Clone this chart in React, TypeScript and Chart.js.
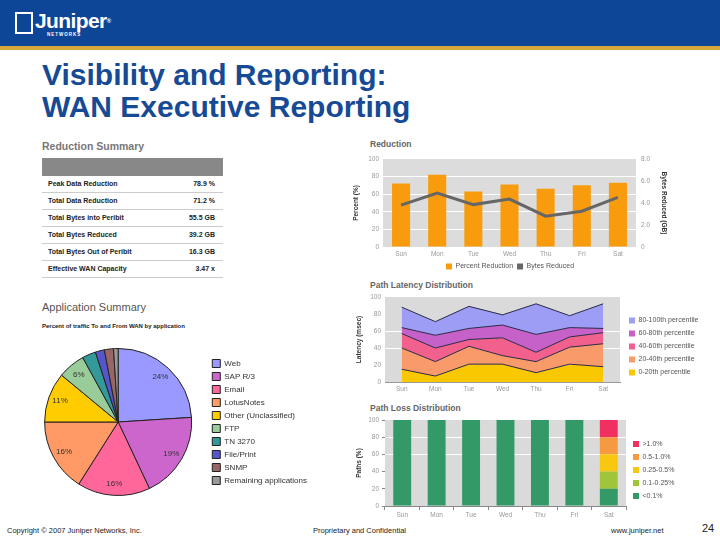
import React, { useEffect, useRef } from "react";
import { Chart, registerables } from "chart.js";
Chart.register(...registerables);

// ---------- data ----------
const days = ["Sun", "Mon", "Tue", "Wed", "Thu", "Fri", "Sat"];

const summaryLabels = [
  "Peak Data Reduction",
  "Total Data Reduction",
  "Total Bytes into Peribit",
  "Total Bytes Reduced",
  "Total Bytes Out of Peribit",
  "Effective WAN Capacity",
];
const summaryValues = ["78.9 %", "71.2 %", "55.5 GB", "39.2 GB", "16.3 GB", "3.47 x"];

const percentReduction = [72, 82, 63, 71, 66, 70, 73];
const bytesReducedGB = [3.8, 4.9, 3.85, 4.35, 2.8, 3.25, 4.5];
const percentTickStep = 20;
const bytesTickStep = 2;

const latencyLabels = ["0-20th percentile", "20-40th percentile", "40-60th percentile", "60-80th percentile", "80-100th percentile"];
const latency0to20 = [15, 7, 21, 21, 11, 21, 18];
const latency20to40 = [25, 17, 21, 10, 13, 20, 27];
const latency40to60 = [17, 16, 8, 21, 11, 12, 13];
const latency60to80 = [7, 15, 13, 15, 21, 11, 5];
const latency80to100 = [24, 16, 26, 12, 36, 14, 29];

const lossLabels = ["<0.1%", "0.1-0.25%", "0.25-0.5%", "0.5-1.0%", ">1.0%"];
const lossUnder01 = [100, 100, 100, 100, 100, 100, 20];
const loss01to025 = [0, 0, 0, 0, 0, 0, 20];
const loss025to05 = [0, 0, 0, 0, 0, 0, 20];
const loss05to1 = [0, 0, 0, 0, 0, 0, 20];
const lossOver1 = [0, 0, 0, 0, 0, 0, 20];

const appNames = [
  "Web",
  "SAP R/3",
  "Email",
  "LotusNotes",
  "Other (Unclassified)",
  "FTP",
  "TN 3270",
  "File/Print",
  "SNMP",
  "Remaining applications",
];
const appShare = [24, 19, 16, 16, 11, 6, 3, 2, 2, 1];

// ---------- styling ----------
const FONT = "'Liberation Sans', Arial, sans-serif";
Chart.defaults.font.family = FONT;
Chart.defaults.font.size = 7;
Chart.defaults.color = "#888";

const latencyColors = ["#FAC800", "#F99A6B", "#F2618D", "#C661C9", "#9D9DF5"];
const lossColors = ["#339966", "#A0C43A", "#F8C810", "#F59A40", "#F03060"];
const appColors = ["#9999FF", "#CC66CC", "#FF6699", "#FF9966", "#FFCC00", "#99CC99", "#339999", "#5555CC", "#996666", "#999999"];

const plotBg = {
  id: "plotBg",
  beforeDraw(chart: any, _a: any, opts: any) {
    if (!opts || !opts.color) return;
    const { ctx, chartArea: a } = chart;
    ctx.save();
    ctx.fillStyle = opts.color;
    ctx.fillRect(a.left, a.top, a.right - a.left, a.bottom - a.top);
    ctx.restore();
  },
};

const pieLabels = {
  id: "pieLabels",
  afterDatasetsDraw(chart: any) {
    const { ctx } = chart;
    const meta = chart.getDatasetMeta(0);
    const values = chart.data.datasets[0].data as number[];
    ctx.save();
    ctx.font = `8px ${FONT}`;
    ctx.fillStyle = "#333";
    ctx.textAlign = "center";
    ctx.textBaseline = "middle";
    meta.data.forEach((arc: any, i: number) => {
      if (values[i] < 5) return;
      const mid = (arc.startAngle + arc.endAngle) / 2;
      const r = arc.outerRadius * 0.84;
      ctx.fillText(values[i] + "%", arc.x + Math.cos(mid) * r, arc.y + Math.sin(mid) * r);
    });
    ctx.restore();
  },
};

const noStrokeLabels = (c: any) =>
  (Chart.defaults.plugins.legend.labels.generateLabels as any)(c).map((l: any) => ({ ...l, lineWidth: 0, strokeStyle: l.fillStyle }));

const tickFont = { size: 6.5 };
const axisTitle = (text: string) => ({
  display: true,
  text,
  color: "#333",
  font: { size: 6.5, weight: "bold" as const },
  padding: { top: 0, bottom: 2 },
});

function reductionConfig(): any {
  return {
    type: "bar",
    data: {
      labels: days,
      datasets: [
        {
          type: "bar",
          label: "Percent Reduction",
          data: percentReduction,
          yAxisID: "y",
          backgroundColor: "#F89C0E",
          barPercentage: 0.5,
          categoryPercentage: 1,
          order: 1,
        },
        {
          type: "line",
          label: "Bytes Reduced",
          data: bytesReducedGB,
          yAxisID: "y1",
          borderColor: "#666",
          backgroundColor: "#666",
          borderWidth: 3,
          pointRadius: 0,
          tension: 0,
          order: 0,
        },
      ],
    },
    options: {
      animation: false,
      responsive: true,
      maintainAspectRatio: false,
      layout: { padding: { top: 7, left: 0, right: 0, bottom: 0 } },
      plugins: {
        plotBg: { color: "#DCDCDC" },
        tooltip: { enabled: false },
        legend: {
          position: "bottom",
          reverse: true,
          maxHeight: 15,
          labels: {
            boxWidth: 6,
            boxHeight: 6,
            padding: 4,
            color: "#555",
            font: { size: 7 },
            generateLabels: noStrokeLabels,
          },
        },
      },
      scales: {
        x: {
          grid: { display: false, drawTicks: false },
          border: { display: false },
          ticks: { padding: 3, color: "#999", font: tickFont },
          afterFit: (s: any) => {
            s.height = 12;
          },
        },
        y: {
          position: "left",
          min: 0,
          max: 100,
          ticks: { stepSize: percentTickStep, padding: 4, color: "#999", font: tickFont },
          grid: { color: "#FFFFFF", drawTicks: false },
          border: { display: false },
          title: axisTitle("Percent (%)"),
          afterFit: (s: any) => {
            s.width = 31;
          },
        },
        y1: {
          position: "right",
          min: 0,
          max: 8,
          ticks: {
            stepSize: bytesTickStep,
            padding: 5,
            color: "#999",
            font: tickFont,
            callback: (v: number) => (v === 0 ? "0" : v.toFixed(1)),
          },
          grid: { display: false, drawTicks: false },
          border: { display: false },
          title: axisTitle("Bytes Reduced (GB)"),
          afterFit: (s: any) => {
            s.width = 32;
          },
        },
      },
    },
    plugins: [plotBg],
  };
}

function latencyConfig(): any {
  const series = [latency0to20, latency20to40, latency40to60, latency60to80, latency80to100];
  return {
    type: "line",
    data: {
      labels: days,
      datasets: series.map((d, i) => ({
        label: latencyLabels[i],
        data: d,
        backgroundColor: latencyColors[i],
        borderColor: "#2A2A48",
        borderWidth: 1,
        pointRadius: 0,
        tension: 0,
        fill: i === 0 ? "origin" : "-1",
      })),
    },
    options: {
      animation: false,
      responsive: true,
      maintainAspectRatio: false,
      layout: { padding: { top: 16, left: 0, right: 0, bottom: 0 } },
      plugins: {
        plotBg: { color: "#DADADA" },
        tooltip: { enabled: false },
        legend: {
          position: "right",
          reverse: true,
          maxWidth: 75,
          labels: {
            boxWidth: 6,
            boxHeight: 6,
            padding: 6,
            color: "#555",
            font: { size: 7 },
            generateLabels: noStrokeLabels,
          },
        },
      },
      scales: {
        x: {
          offset: true,
          grid: { display: false, drawTicks: false },
          border: { display: true, color: "#999" },
          ticks: { padding: 3, color: "#999", font: tickFont },
          afterFit: (s: any) => {
            s.height = 14;
          },
        },
        y: {
          stacked: true,
          min: 0,
          max: 100,
          ticks: { stepSize: 20, padding: 4, color: "#999", font: tickFont },
          grid: {
            drawTicks: false,
            color: (c: any) => (c.tick && (c.tick.value === 40 || c.tick.value === 60) ? "#FFFFFF" : "rgba(0,0,0,0)"),
          },
          border: { display: false },
          title: axisTitle("Latency (msec)"),
          afterFit: (s: any) => {
            s.width = 30;
          },
        },
        gap: {
          type: "linear",
          position: "right",
          grid: { display: false, drawTicks: false },
          ticks: { display: false },
          border: { display: false },
          afterFit: (s: any) => {
            s.width = 3;
          },
        },
      },
    },
    plugins: [plotBg],
  };
}

function lossConfig(): any {
  const series = [lossUnder01, loss01to025, loss025to05, loss05to1, lossOver1];
  return {
    type: "bar",
    data: {
      labels: days,
      datasets: series.map((d, i) => ({
        label: lossLabels[i],
        data: d,
        backgroundColor: lossColors[i],
        barPercentage: 0.52,
        categoryPercentage: 1,
      })),
    },
    options: {
      animation: false,
      responsive: true,
      maintainAspectRatio: false,
      layout: { padding: { top: 17, left: 0, right: 0, bottom: 0 } },
      plugins: {
        plotBg: { color: "#DADADA" },
        tooltip: { enabled: false },
        legend: {
          position: "right",
          reverse: true,
          maxWidth: 50,
          labels: {
            boxWidth: 6,
            boxHeight: 6,
            padding: 6,
            color: "#555",
            font: { size: 7 },
            generateLabels: noStrokeLabels,
          },
        },
      },
      scales: {
        x: {
          stacked: true,
          grid: { drawOnChartArea: false, drawTicks: true, tickLength: 4, color: "#888" },
          border: { display: true, color: "#888" },
          ticks: { padding: 1, color: "#999", font: tickFont },
          afterFit: (s: any) => {
            s.height = 14;
          },
        },
        y: {
          stacked: true,
          min: 0,
          max: 100,
          ticks: { stepSize: 20, padding: 3, color: "#999", font: tickFont },
          grid: {
            drawTicks: true,
            tickLength: 3,
            tickColor: "#888",
            color: (c: any) => (c.tick && (c.tick.value === 60 || c.tick.value === 80) ? "#FFFFFF" : "rgba(0,0,0,0)"),
          },
          border: { display: false },
          title: axisTitle("Paths (%)"),
          afterFit: (s: any) => {
            s.width = 30;
          },
        },
        gap: {
          type: "linear",
          position: "right",
          grid: { display: false, drawTicks: false },
          ticks: { display: false },
          border: { display: false },
          afterFit: (s: any) => {
            s.width = 1;
          },
        },
      },
    },
    plugins: [plotBg],
  };
}

function pieConfig(): any {
  return {
    type: "pie",
    data: {
      labels: appNames,
      datasets: [
        {
          data: appShare,
          backgroundColor: appColors,
          borderColor: "#222",
          borderWidth: 1,
        },
      ],
    },
    options: {
      animation: false,
      responsive: true,
      maintainAspectRatio: false,
      layout: { padding: 0 },
      plugins: {
        tooltip: { enabled: false },
        legend: {
          position: "right",
          maxWidth: 110,
          labels: {
            boxWidth: 8,
            boxHeight: 8,
            padding: 5,
            color: "#333",
            font: { size: 8 },
          },
        },
      },
    },
    plugins: [pieLabels],
  };
}

function ChartBox({ style, config }: { style: React.CSSProperties; config: () => any }) {
  const ref = useRef<HTMLCanvasElement>(null);
  useEffect(() => {
    const chart = new Chart(ref.current as HTMLCanvasElement, config());
    return () => chart.destroy();
  }, []);
  return (
    <div style={{ position: "absolute", ...style }}>
      <canvas ref={ref} />
    </div>
  );
}

const abs = (s: React.CSSProperties): React.CSSProperties => ({ position: "absolute", whiteSpace: "nowrap", ...s });

export default function App() {
  return (
    <div
      style={{
        position: "fixed",
        left: 0,
        top: 0,
        width: 720,
        height: 540,
        background: "#fff",
        overflow: "hidden",
        fontFamily: FONT,
      }}
    >
      {/* header */}
      <div style={abs({ left: 0, top: 0, width: 720, height: 46, background: "#0D4597" })} />
      <div style={abs({ left: 0, top: 46, width: 720, height: 4, background: "#D6A83A" })} />
      <div style={abs({ left: 15, top: 12, width: 14, height: 18, border: "2px solid #fff" })} />
      <div style={abs({ left: 35, top: 9, color: "#fff", fontWeight: "bold", fontSize: 21, lineHeight: "24px", letterSpacing: -0.6 })}>
        Juniper<span style={{ fontSize: 6, verticalAlign: "top" }}>®</span>
      </div>
      <div style={abs({ left: 47, top: 32, color: "#fff", fontWeight: "bold", fontSize: 4.5, lineHeight: "5px", letterSpacing: 1 })}>NETWORKS</div>

      {/* title */}
      <div style={abs({ left: 42, top: 59, color: "#174A95", fontWeight: "bold", fontSize: 30, lineHeight: "32px" })}>
        Visibility and Reporting:
        <br />
        WAN Executive Reporting
      </div>

      {/* reduction summary table */}
      <div style={abs({ left: 42, top: 140, color: "#777", fontWeight: "bold", fontSize: 10.5, lineHeight: "12px" })}>Reduction Summary</div>
      <div style={abs({ left: 42, top: 158, width: 181, height: 18, background: "#888" })} />
      {summaryLabels.map((l, i) => (
        <div
          key={l}
          style={abs({
            left: 42,
            top: 176 + i * 17,
            width: 181,
            height: 16,
            borderBottom: "1px solid #CCC",
            fontSize: 7,
            fontWeight: "bold",
            color: "#222",
            lineHeight: "16px",
          })}
        >
          <span style={{ position: "absolute", left: 6 }}>{l}</span>
          <span style={{ position: "absolute", right: 8 }}>{summaryValues[i]}</span>
        </div>
      ))}

      {/* chart titles */}
      <div style={abs({ left: 370, top: 139, color: "#666", fontWeight: "bold", fontSize: 8.5, lineHeight: "10px" })}>Reduction</div>
      <div style={abs({ left: 370, top: 280, color: "#666", fontWeight: "bold", fontSize: 8.5, lineHeight: "10px" })}>Path Latency Distribution</div>
      <div style={abs({ left: 370, top: 403, color: "#666", fontWeight: "bold", fontSize: 8.5, lineHeight: "10px" })}>Path Loss Distribution</div>

      <div style={abs({ left: 42, top: 300, color: "#555", fontSize: 11, lineHeight: "14px" })}>Application Summary</div>
      <div style={abs({ left: 42, top: 322, color: "#222", fontWeight: "bold", fontSize: 6, lineHeight: "8px" })}>
        Percent of traffic To and From WAN by application
      </div>

      <ChartBox style={{ left: 352, top: 150, width: 316, height: 124 }} config={reductionConfig} />
      <ChartBox style={{ left: 355, top: 281, width: 343, height: 115 }} config={latencyConfig} />
      <ChartBox style={{ left: 355, top: 403, width: 322, height: 117 }} config={lossConfig} />
      <ChartBox style={{ left: 29, top: 348, width: 288, height: 148 }} config={pieConfig} />

      {/* footer */}
      <div style={abs({ left: 7, top: 526, color: "#222", fontSize: 7.5, lineHeight: "10px" })}>Copyright © 2007 Juniper Networks, Inc.</div>
      <div style={abs({ left: 313, top: 526, color: "#222", fontSize: 7.5, lineHeight: "10px" })}>Proprietary and Confidential</div>
      <div style={abs({ left: 611, top: 526, color: "#222", fontSize: 7.5, lineHeight: "10px" })}>www.juniper.net</div>
      <div style={abs({ left: 702, top: 522, color: "#222", fontSize: 11, lineHeight: "13px" })}>24</div>
    </div>
  );
}
